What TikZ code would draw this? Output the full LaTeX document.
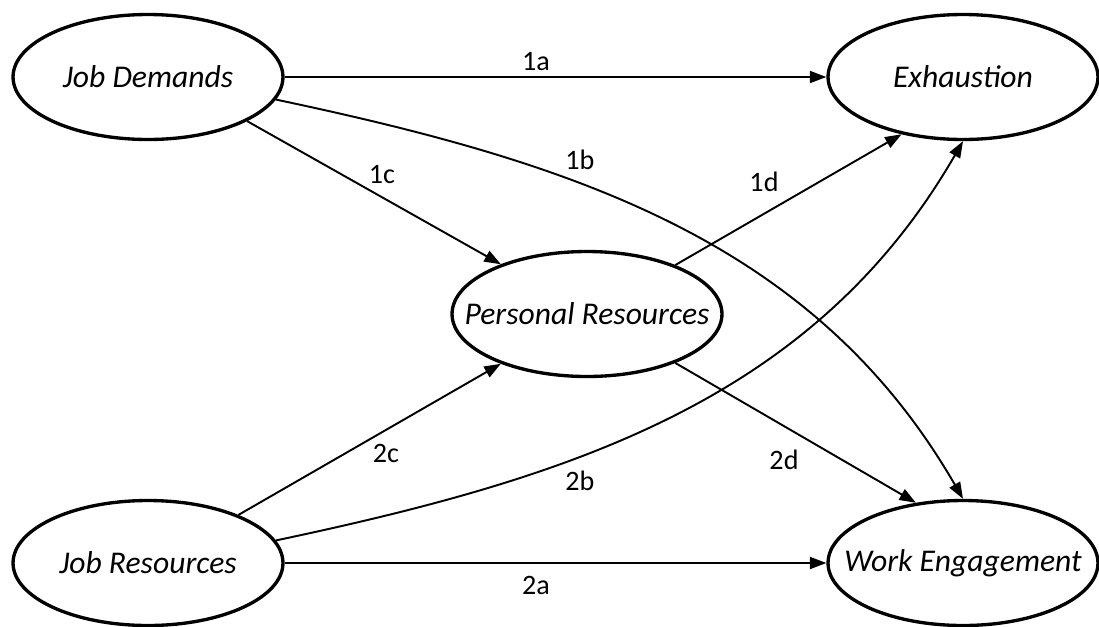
\documentclass[tikz,border=0pt]{standalone}
\usepackage{fontspec}
\setmainfont{Carlito}
\usetikzlibrary{arrows.meta, shapes.geometric}

\begin{document}
\begin{tikzpicture}[
  x=0.02cm, y=-0.02cm,
  >={Triangle[length=3.3mm, width=2.4mm]},
  latent/.style={
    draw, ellipse, line width=1.9pt,
    minimum width=5.4cm, minimum height=2.5cm,
    font=\fontsize{18}{20}\selectfont\itshape,
    inner xsep=-0.6cm, inner ysep=0pt},
  arr/.style={->, line width=1.1pt},
  lbl/.style={font=\fontsize{16}{18}\selectfont, inner sep=1pt},
]

% Canvas (~22cm x 12.5cm)
\useasboundingbox (0,0) rectangle (1099,626);

% === Constructs ===
\node[latent] (jd)  at (148,77)  {Job Demands};
\node[latent] (exh) at (963,77)  {Exhaustion};
\node[latent] (pr)  at (587,314) {Personal Resources};
\node[latent] (jr)  at (148,563) {Job Resources};
\node[latent] (we)  at (963,563) {Work Engagement};

% === Demands paths ===
\draw[arr] (jd.east) -- (exh.west);
\draw[arr] (jd.-10) .. controls +(293,62) and +(-150,-260) .. (we.north);
\draw[arr] (jd.-24) -- (pr.150);
\draw[arr] (pr.29) -- (exh.223);

% === Resources paths ===
\draw[arr] (jr.east) -- (we.west);
\draw[arr] (jr.10) .. controls +(293,-62) and +(-150,260) .. (exh.south);
\draw[arr] (jr.28) -- (pr.210);
\draw[arr] (pr.-29) -- (we.128);

% Path labels
\node[lbl] (l1a) at (536,62)  {1a};
\node[lbl] (l1b) at (580,160) {1b};
\node[lbl] (l1c) at (382,175) {1c};
\node[lbl] (l1d) at (764,182) {1d};
\node[lbl] (l2a) at (536,585) {2a};
\node[lbl] (l2b) at (580,481) {2b};
\node[lbl] (l2c) at (386,453) {2c};
\node[lbl] (l2d) at (784,460) {2d};

\end{tikzpicture}
\end{document}
